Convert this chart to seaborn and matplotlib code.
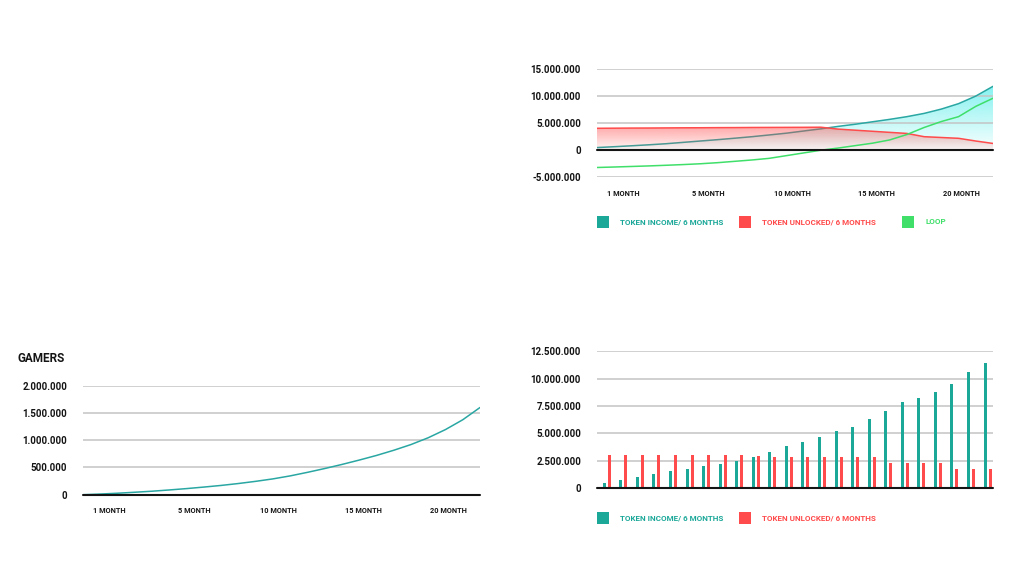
import numpy as np
import pandas as pd
import matplotlib
matplotlib.use("Agg")
import matplotlib.pyplot as plt
import seaborn as sns
from matplotlib.patches import PathPatch, Rectangle
from matplotlib.ticker import FuncFormatter

# ---------------- data (values in millions) ----------------
month_labels = ["1 MONTH", "5 MONTH", "10 MONTH", "15 MONTH", "20 MONTH"]

income_line = [0.49, 0.65, 0.82, 1.0, 1.2, 1.45, 1.7, 1.95, 2.22, 2.5, 2.82, 3.15,
               3.55, 3.95, 4.4, 4.8, 5.25, 5.7, 6.2, 6.8, 7.6, 8.6, 10.0, 11.8]
unlocked_line = [4.05, 4.07, 4.09, 4.1, 4.12, 4.14, 4.15, 4.17, 4.18, 4.2, 4.21, 4.22,
                 4.23, 4.25, 3.9, 3.7, 3.5, 3.3, 3.1, 2.5, 2.35, 2.2, 1.7, 1.25]
loop_line = [-3.19, -3.1, -3.0, -2.9, -2.78, -2.65, -2.5, -2.3, -2.05, -1.8, -1.5, -1.0,
             -0.5, 0.0, 0.4, 0.85, 1.3, 1.9, 2.9, 4.2, 5.3, 6.2, 8.1, 9.6]

gamers = [0.0, 0.012, 0.027, 0.045, 0.064, 0.087, 0.112, 0.14, 0.17, 0.205, 0.245, 0.29,
          0.345, 0.41, 0.48, 0.555, 0.635, 0.72, 0.815, 0.92, 1.045, 1.195, 1.375, 1.6]

bars_income = [0.43, 0.76, 1.01, 1.25, 1.52, 1.71, 1.98, 2.2, 2.5, 2.84, 3.29, 3.81,
               4.24, 4.66, 5.18, 5.55, 6.34, 7.04, 7.84, 8.23, 8.81, 9.54, 10.61, 11.4]
bars_unlocked = [3.05, 3.05, 3.05, 3.05, 3.05, 3.05, 3.05, 3.05, 3.05, 2.93, 2.8, 2.8,
                 2.8, 2.8, 2.8, 2.8, 2.8, 2.29, 2.29, 2.29, 2.29, 1.71, 1.71, 1.71]

series_income = "TOKEN INCOME/ 6 MONTHS"
series_unlocked = "TOKEN UNLOCKED/ 6 MONTHS"
series_loop = "LOOP"

top_yticks = [-5, 0, 5, 10, 15]
gamers_yticks = [0, 0.5, 1.0, 1.5, 2.0]
bar_yticks = [0, 2.5, 5, 7.5, 10, 12.5]

# ---------------- style ----------------
TEAL = "#1ca899"
TEAL_LINE = "#2aa7a3"
RED = "#ff4b4b"
GREEN = "#3fdf6a"
GRID = "#c4c4c4"
INK = "#141414"

sns.set_theme(style="white")
plt.rcParams["font.family"] = ["Roboto", "DejaVu Sans"]
plt.rcParams["font.weight"] = "bold"

W, H = 1024, 576
fig = plt.figure(figsize=(W / 100, H / 100), dpi=100)
fig.patch.set_facecolor("white")


def px_axes(left, top, right, bottom):
    return fig.add_axes([left / W, 1 - bottom / H, (right - left) / W, (bottom - top) / H])


def fmt(v, _pos=None):
    return f"{int(round(v * 1e6)):,}".replace(",", ".")


def style(ax, yticks, ylim, xlim, xlabels=None):
    for s in ax.spines.values():
        s.set_visible(False)
    ax.set_facecolor("none")
    ax.set_xlim(xlim)
    ax.set_ylim(ylim)
    ax.set_yticks(yticks)
    ax.yaxis.set_major_formatter(FuncFormatter(fmt))
    ax.tick_params(axis="y", length=0, pad=11.5, labelsize=7, labelcolor=INK)
    ax.grid(False)
    for t in yticks:
        if t != 0:
            ax.axhline(t, color=GRID, lw=1.1, zorder=1)
    ax.axhline(0, color=INK, lw=1.5, zorder=7, clip_on=False)
    if xlabels is not None:
        ax.set_xticks(np.linspace(1.55, 21.15, len(xlabels)))
        ax.set_xticklabels(xlabels)
        ax.tick_params(axis="x", length=0, pad=9, labelsize=5.3, labelcolor=INK)
    else:
        ax.set_xticks([])
    ax.set_xlabel("")
    ax.set_ylabel("")


def gradient_fill(ax, x, y, rgb, a_top, a_bottom, zorder, base=None):
    poly = ax.fill_between(x, y, 0, facecolor="none", edgecolor="none")
    path = poly.get_paths()[0]
    clip = PathPatch(path, transform=ax.transData, facecolor="none", edgecolor="none")
    ax.add_patch(clip)
    t = np.linspace(1, 0, 256)
    img = np.zeros((256, 1, 4))
    img[:, 0, :3] = np.array(rgb, dtype=float) / 255
    img[:, 0, 3] = a_bottom + (a_top - a_bottom) * t
    im = ax.imshow(img, extent=[x.min(), x.max(), 0, max(y)], aspect="auto",
                   origin="upper", zorder=zorder, interpolation="bilinear")
    im.set_clip_path(clip)


# ---------------- top-right: token lines ----------------
ax1 = px_axes(597, 69, 993, 177.3)
x = np.arange(len(income_line))
df_top = pd.DataFrame({"i": x, "income": income_line,
                       "unlocked": unlocked_line, "loop": loop_line})
gradient_fill(ax1, x, np.array(income_line), (60, 235, 232), 0.62, 0.04, 0.2)
sns.lineplot(data=df_top, x="i", y="income", color=TEAL_LINE, lw=1.1, ax=ax1, zorder=2)
gradient_fill(ax1, x, np.array(unlocked_line), (255, 70, 70), 0.48, 0.05, 2.5)
sns.lineplot(data=df_top, x="i", y="unlocked", color=RED, lw=1.1, ax=ax1, zorder=5)
sns.lineplot(data=df_top, x="i", y="loop", color=GREEN, lw=1.1, ax=ax1, zorder=6)
style(ax1, top_yticks, (-5, 15), (0, len(x) - 1), month_labels)

# ---------------- bottom-left: gamers ----------------
ax2 = px_axes(83, 385.7, 480, 494.7)
xg = np.arange(len(gamers))
sns.lineplot(x=xg, y=gamers, color=TEAL_LINE, lw=1.1, ax=ax2, zorder=5)
style(ax2, gamers_yticks, (0, 2.0), (0, len(xg) - 1), month_labels)
fig.text(18 / W, 1 - 359 / H, "GAMERS", fontsize=8.5, color=INK, va="center", ha="left")

# ---------------- bottom-right: bars ----------------
ax3 = px_axes(597, 351.4, 993, 488)
n = len(bars_income)
df_bar = pd.DataFrame({
    "month": list(range(n)) * 2,
    "value": bars_income + bars_unlocked,
    "series": [series_income] * n + [series_unlocked] * n,
})
sns.barplot(data=df_bar, x="month", y="value", hue="series",
            hue_order=[series_income, series_unlocked], palette=[TEAL, RED],
            width=0.6, gap=0.4, saturation=1, errorbar=None, legend=False,
            linewidth=0, ax=ax3, zorder=3)
style(ax3, bar_yticks, (0, 12.5), (-0.592, n - 1 + 0.33))


# ---------------- legends ----------------
def legend_item(xpx, ycen, color, text):
    fig.add_artist(Rectangle((xpx / W, 1 - (ycen + 6) / H), 12 / W, 12 / H,
                             transform=fig.transFigure, facecolor=color, edgecolor="none"))
    fig.text((xpx + 23) / W, 1 - ycen / H, text, color=color, fontsize=5.8,
             va="center", ha="left")


legend_item(597, 221.8, TEAL, series_income)
legend_item(739.3, 221.8, RED, series_unlocked)
legend_item(902, 221.8, GREEN, series_loop)
legend_item(597, 518, TEAL, series_income)
legend_item(739.3, 518, RED, series_unlocked)

fig.savefig("out.png", dpi=100)
